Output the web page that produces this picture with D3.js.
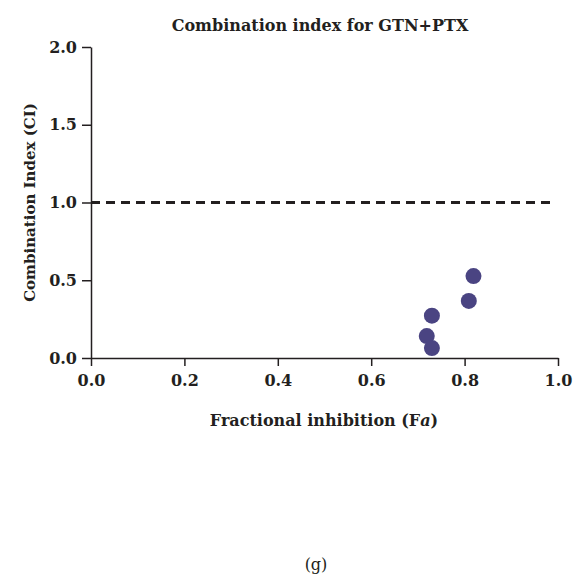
<!DOCTYPE html>
<html>
<head>
<meta charset="utf-8">
<script src="https://cdn.jsdelivr.net/npm/d3@7"></script>
<style>
  html, body { margin: 0; padding: 0; background: #fff; }
  svg { display: block; }
  text { font-family: "DejaVu Serif", "Liberation Serif", serif; fill: #231f20; }
</style>
</head>
<body>
<svg id="chart" width="581" height="577"></svg>
<script>
// Fractional inhibition (Fa) and combination index (CI) for each dose pair
const fa = [0.819, 0.809, 0.730, 0.719, 0.730];
const ci = [0.527, 0.367, 0.272, 0.141, 0.064];
const xTicks = [0.0, 0.2, 0.4, 0.6, 0.8, 1.0];
const yTicks = [0.0, 0.5, 1.0, 1.5, 2.0];
const additiveLine = 1.0;

const svg = d3.select("#chart");
const ink = "#231f20";
const dotColor = "#4a4482";

const x = d3.scaleLinear().domain([0, 1]).range([91, 558]);
const y = d3.scaleLinear().domain([0, 2]).range([358, 47]);

// Axes: x ticks point down, y ticks point left
const xAxis = svg.append("g")
  .attr("transform", `translate(0,${y(0)})`)
  .call(d3.axisBottom(x).tickValues(xTicks).tickFormat(d3.format(".1f")).tickSize(8).tickSizeOuter(0).tickPadding(9));
const yAxis = svg.append("g")
  .attr("transform", `translate(${x(0)},0)`)
  .call(d3.axisLeft(y).tickValues(yTicks).tickFormat(d3.format(".1f")).tickSize(9).tickSizeOuter(0).tickPadding(5));

[xAxis, yAxis].forEach(g => {
  g.select(".domain").attr("stroke", ink).attr("stroke-width", 1.5);
  g.selectAll(".tick line").attr("stroke", ink).attr("stroke-width", 1.5);
  g.selectAll(".tick text")
    .attr("fill", ink)
    .style("font-family", '"DejaVu Serif", serif')
    .style("font-weight", "bold")
    .style("font-size", "16px");
});

// Additive reference line at CI = 1
svg.append("line")
  .attr("x1", x(0)).attr("x2", x(0.985))
  .attr("y1", y(additiveLine)).attr("y2", y(additiveLine))
  .attr("stroke", ink)
  .attr("stroke-width", 3)
  .attr("stroke-dasharray", "9,6");

// Data points
svg.append("g").selectAll("circle")
  .data(fa.map((d, i) => ({ fa: d, ci: ci[i] })))
  .join("circle")
  .attr("cx", d => x(d.fa))
  .attr("cy", d => y(d.ci))
  .attr("r", 8)
  .attr("fill", dotColor);

// Title
svg.append("text")
  .attr("x", 320).attr("y", 31)
  .attr("text-anchor", "middle")
  .style("font-weight", "bold")
  .style("font-size", "16px")
  .text("Combination index for GTN+PTX");

// X axis title
const xt = svg.append("text")
  .attr("x", 324).attr("y", 426)
  .attr("text-anchor", "middle")
  .style("font-weight", "bold")
  .style("font-size", "16px");
xt.append("tspan").text("Fractional inhibition (F");
xt.append("tspan").style("font-style", "italic").text("a");
xt.append("tspan").text(")");

// Y axis title
svg.append("text")
  .attr("transform", `translate(35,${y(1)}) rotate(-90)`)
  .attr("text-anchor", "middle")
  .style("font-weight", "bold")
  .style("font-size", "15px")
  .text("Combination Index (CI)");

// Panel label
svg.append("text")
  .attr("x", 316).attr("y", 570)
  .attr("text-anchor", "middle")
  .style("font-size", "16px")
  .text("(g)");
</script>
</body>
</html>
